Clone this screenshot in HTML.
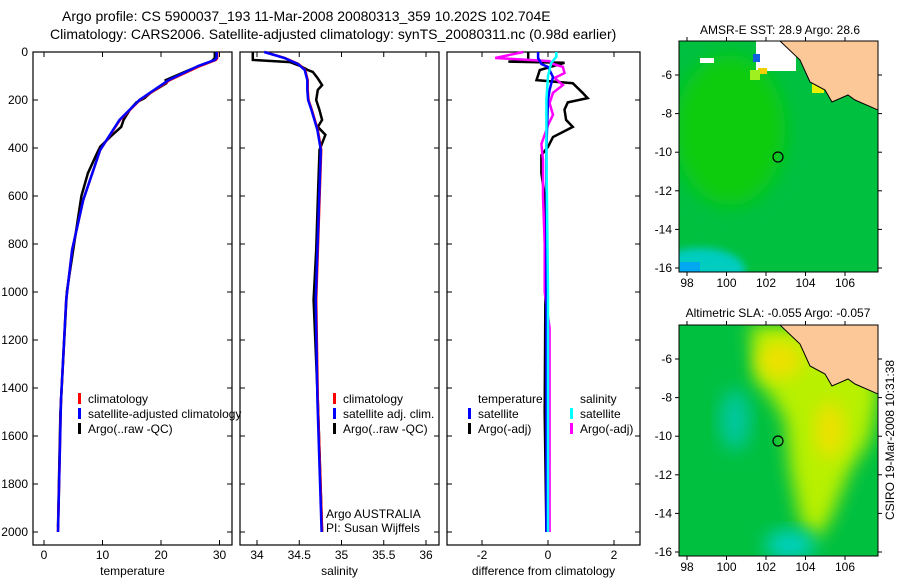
<!DOCTYPE html>
<html><head><meta charset="utf-8"><style>
body{margin:0;background:#fff;}
svg{display:block;font-family:"Liberation Sans",sans-serif;}
</style></head><body>
<svg id="fig" width="900" height="580" viewBox="0 0 900 580">
<defs>
<filter id="blur" x="-30%" y="-30%" width="160%" height="160%"><feGaussianBlur stdDeviation="9"/></filter>
<filter id="blur2" x="-30%" y="-30%" width="160%" height="160%"><feGaussianBlur stdDeviation="4"/></filter>
<clipPath id="c1"><rect x="679" y="41" width="199" height="231"/></clipPath>
<clipPath id="c2"><rect x="679" y="325" width="199" height="231"/></clipPath>
</defs>
<text x="62" y="21" font-size="14">Argo profile: CS 5900037_193 11-Mar-2008 20080313_359 10.202S 102.704E</text>
<text x="50" y="39" font-size="14">Climatology: CARS2006. Satellite-adjusted climatology: synTS_20080311.nc (0.98d earlier)</text>
<g id="plots"></g>
<!-- SST map -->
<g clip-path="url(#c1)">
<rect x="679" y="41" width="199" height="231" fill="#00c040"/>
<ellipse cx="730" cy="130" rx="55" ry="75" fill="#10cc10" filter="url(#blur)"/>
<ellipse cx="700" cy="270" rx="45" ry="22" fill="#00ccc0" filter="url(#blur2)"/>
<rect x="680" y="262" width="20" height="10" fill="#00a8f0"/>
<rect x="700" y="58" width="14" height="5" fill="#fff"/>
<rect x="756" y="41" width="40" height="30" fill="#fff"/>
<rect x="758" y="68" width="9" height="6" fill="#f0d000"/>
<rect x="753" y="54" width="7" height="8" fill="#1060e0"/>
<rect x="750" y="70" width="10" height="10" fill="#a0f020"/>
<rect x="812" y="83" width="12" height="10" fill="#e8f000"/>
<rect x="860" y="66" width="18" height="10" fill="#c0f000"/>
<path d="M780 41 L878 41 L878 110 L855 100 L848 95 L832 102 L825 90 L810 82 L800 60 Z" fill="#fdc898" stroke="#000" stroke-width="1"/>
<circle cx="778" cy="157" r="5" fill="none" stroke="#000" stroke-width="1.2"/>
</g>
<rect x="679" y="41" width="199" height="231" fill="none" stroke="#000"/>
<text x="780" y="34" font-size="12" text-anchor="middle">AMSR-E SST: 28.9 Argo: 28.6</text>
<!-- SLA map -->
<g clip-path="url(#c2)">
<rect x="679" y="325" width="199" height="231" fill="#00c040"/>
<path d="M750 325 L878 325 L878 400 L870 440 L850 470 L830 520 L815 540 L800 520 L790 470 L785 420 L770 395 L755 380 Z" fill="#b8f000" filter="url(#blur)"/>
<ellipse cx="780" cy="360" rx="22" ry="18" fill="#f0e000" filter="url(#blur)"/>
<ellipse cx="830" cy="430" rx="14" ry="28" fill="#f0e000" filter="url(#blur)"/>
<ellipse cx="735" cy="420" rx="15" ry="30" fill="#00c8a0" filter="url(#blur)"/>
<ellipse cx="790" cy="545" rx="25" ry="15" fill="#00d0c0" filter="url(#blur)"/>
<path d="M780 325 L878 325 L878 394 L855 384 L848 379 L832 386 L825 374 L810 366 L800 344 Z" fill="#fdc898" stroke="#000" stroke-width="1"/>
<circle cx="778" cy="441" r="5" fill="none" stroke="#000" stroke-width="1.2"/>
</g>
<rect x="679" y="325" width="199" height="231" fill="none" stroke="#000"/>
<text x="778" y="317" font-size="12" text-anchor="middle">Altimetric SLA: -0.055 Argo: -0.057</text>
<text transform="translate(894,440) rotate(-90)" font-size="12" text-anchor="middle">CSIRO 19-Mar-2008 10:31:38</text>
<g id="maps"></g>
</svg>
<script>
// ---- data ----
const depthTicks=[0,200,400,600,800,1000,1200,1400,1600,1800,2000];
const tempTicks=[0,10,20,30];
const salTicks=[34,34.5,35,35.5,36];
const diffTicks=[-2,0,2];
const latTicks=[-6,-8,-10,-12,-14,-16];
const lonTicks=[98,100,102,104,106];
const climDepth=[0,25,33,58,117,200,283,408,617,825,1033,1450,2000];
const climTemp=[29.6,29.6,29.4,26.7,21.5,16.4,13.0,9.6,6.7,4.8,3.8,2.9,2.4];
const satTemp=[29.5,29.5,29.2,26.4,21.3,16.3,12.9,9.6,6.7,4.8,3.8,2.9,2.4];
const argoTempDepth=[0,25,40,75,117,130,170,192,210,240,283,312,354,395,430,505,600,1000,1500,1980];
const argoTemp=[29.2,29.2,28.6,24.8,20.8,20.9,18.2,17.2,15.8,14.7,13.6,13.2,11.3,9.6,8.9,7.5,6.4,3.9,2.8,2.4];
const climSalDepth=[0,25,50,75,117,158,200,242,325,408,617,1033,1450,2000];
const climSal=[34.09,34.33,34.49,34.57,34.6,34.6,34.61,34.65,34.72,34.76,34.74,34.70,34.72,34.77];
const argoSalDepth=[0,20,33,42,58,75,83,110,138,158,200,242,283,312,345,408,617,825,1033,1450,2000];
const argoSal=[33.95,33.95,33.95,34.39,34.51,34.6,34.66,34.72,34.77,34.72,34.7,34.74,34.77,34.72,34.81,34.74,34.72,34.70,34.67,34.72,34.77];
const dTempDepth=[0,35,40,45,75,117,130,170,192,210,240,283,312,354,395,430,505,600,1000,1500,2000];
const dTempArgo=[-0.6,-0.6,-1.2,0.5,-0.25,-0.35,0.75,1.05,1.2,0.6,0.5,0.55,0.75,0.15,0,-0.2,-0.2,-0.1,-0.08,-0.1,-0.05];
const dTempSatDepth=[0,25,50,62,104,158,200,400,1000,1500,2000];
const dTempSat=[-0.3,-0.3,-0.2,0,0.15,0.05,0,-0.05,-0.05,-0.05,-0.05];
const dSalDepth=[0,25,38,50,62,88,108,138,170,213,262,304,325,383,450,600,800,1000,1150,1300,2000];
const dSalArgo=[-0.75,-1.6,0.05,0.15,0.45,0.5,0.2,0.45,0.15,0.05,0.15,0,-0.05,-0.2,-0.15,-0.15,-0.1,-0.1,0.05,0.05,0.05];
const dSalSatDepth=[0,20,45,100,200,400,1000,2000];
const dSalSat=[0.25,0.25,0.1,0,-0.05,-0.05,0,0];

const NS='http://www.w3.org/2000/svg';
function mk(tag,attrs,parent){const e=document.createElementNS(NS,tag);for(const k in attrs)e.setAttribute(k,attrs[k]);parent.appendChild(e);return e;}
const plots=document.getElementById('plots');
const topY=52,botY=545;
const yD=d=>52+d*0.24;
function panel(name,x0,x1,xs,ticks,label){
  const g=mk('g',{},plots);
  
  
  const r=mk('rect',{x:x0,y:topY,width:x1-x0,height:botY-topY,fill:'none',stroke:'#000','stroke-width':1.2},g);
  
  
  ticks.forEach(t=>{const x=xs(t);
    mk('line',{x1:x,x2:x,y1:botY,y2:botY-5,stroke:'#000'},g);
    mk('line',{x1:x,x2:x,y1:topY,y2:topY+5,stroke:'#000'},g);
    const tx=mk('text',{x:x,y:botY+14,'font-size':12,'text-anchor':'middle'},g);tx.textContent=t;
    
    
  });
  depthTicks.forEach(d=>{const y=yD(d);
    mk('line',{x1:x0,x2:x0+5,y1:y,y2:y,stroke:'#000'},g);
    mk('line',{x1:x1,x2:x1-5,y1:y,y2:y,stroke:'#000'},g);});
  const xl=mk('text',{x:(x0+x1)/2,y:botY+30,'font-size':12,'text-anchor':'middle'},g);xl.textContent=label;
  
  
  return g;
}
function line(g,name,xs,ds,vs,color,w){
  const pts=ds.map((d,i)=>xs(vs[i]).toFixed(1)+','+yD(d).toFixed(1)).join(' ');
  const p=mk('polyline',{points:pts,fill:'none',stroke:color,'stroke-width':w},g);
  
  
}
function legend(g,x,y,items){
  items.forEach((it,i)=>{
    if(it[1]){mk('rect',{x:x,y:y+i*15-10,width:3,height:11,fill:it[1]},g);}
    const t=mk('text',{x:x+10,y:y+i*15,'font-size':12},g);t.textContent=it[0];
    
    
  });
}
depthTicks.forEach(d=>{const t=mk('text',{x:28,y:yD(d)+4,'font-size':12,'text-anchor':'end'},plots);t.textContent=d;
  
  });
// panel 1
const xT=v=>44+5.85*v;
const g1=panel('temperature-panel',33,232,xT,tempTicks,'temperature');
line(g1,'argo-temperature',xT,argoTempDepth,argoTemp,'#000',2.5);
line(g1,'climatology-temperature',xT,climDepth,climTemp,'#f00',2.5);
line(g1,'satellite-temperature',xT,climDepth,satTemp,'#00f',2.5);
legend(g1,78,403,[['climatology','#f00'],['satellite-adjusted climatology','#00f'],['Argo(..raw -QC)','#000']]);
// panel 2
const xS=v=>257+84.5*(v-34);
const g2=panel('salinity-panel',240,439,xS,salTicks,'salinity');
line(g2,'argo-salinity',xS,argoSalDepth,argoSal,'#000',2.5);
line(g2,'climatology-salinity',xS,climSalDepth,climSal,'#f00',2.5);
line(g2,'satellite-salinity',xS,climSalDepth,climSal.map(v=>v-0.005),'#00f',2.5);
legend(g2,333,403,[['climatology','#f00'],['satellite adj. clim.','#00f'],['Argo(..raw -QC)','#000']]);
const ta=mk('text',{x:326,y:518,'font-size':12},g2);ta.textContent='Argo AUSTRALIA';


const tp=mk('text',{x:326,y:532,'font-size':12},g2);tp.textContent='PI: Susan Wijffels';


// panel 3
const xDf=v=>548+33*v;
const g3=panel('difference-panel',447,640,xDf,diffTicks,'difference from climatology');
line(g3,'argo-temp-diff',xDf,dTempDepth,dTempArgo,'#000',2.5);
line(g3,'argo-sal-diff',xDf,dSalDepth,dSalArgo,'#f0f',2.5);
line(g3,'sat-temp-diff',xDf,dTempSatDepth,dTempSat,'#00f',2.5);
line(g3,'sat-sal-diff',xDf,dSalSatDepth,dSalSat,'#0ff',2.5);
legend(g3,468,403,[['temperature',null],['satellite','#00f'],['Argo(-adj)','#000']]);
legend(g3,570,403,[['salinity',null],['satellite','#0ff'],['Argo(-adj)','#f0f']]);
// map axes
const maps=document.getElementById('maps');
function mapAxes(name,y0,y1){
  const lonX=l=>687+19.75*(l-98);
  const latY=l=>y0+34+19.3*(-6-l);
  lonTicks.forEach(l=>{const x=lonX(l);
    mk('line',{x1:x,x2:x,y1:y1,y2:y1+4,stroke:'#000'},maps);
    mk('line',{x1:x,x2:x,y1:y0,y2:y0-4,stroke:'#000'},maps);
    const t=mk('text',{x:x,y:y1+15,'font-size':12,'text-anchor':'middle'},maps);t.textContent=l;
    
    });
  latTicks.forEach(l=>{const y=latY(l);
    mk('line',{x1:675,x2:679,y1:y,y2:y,stroke:'#000'},maps);
    mk('line',{x1:878,x2:882,y1:y,y2:y,stroke:'#000'},maps);
    const t=mk('text',{x:672,y:y+4,'font-size':12,'text-anchor':'end'},maps);t.textContent=l;
    
    });
}
mapAxes('sst-map',41,272);
mapAxes('sla-map',325,556);
</script>
</body></html>
